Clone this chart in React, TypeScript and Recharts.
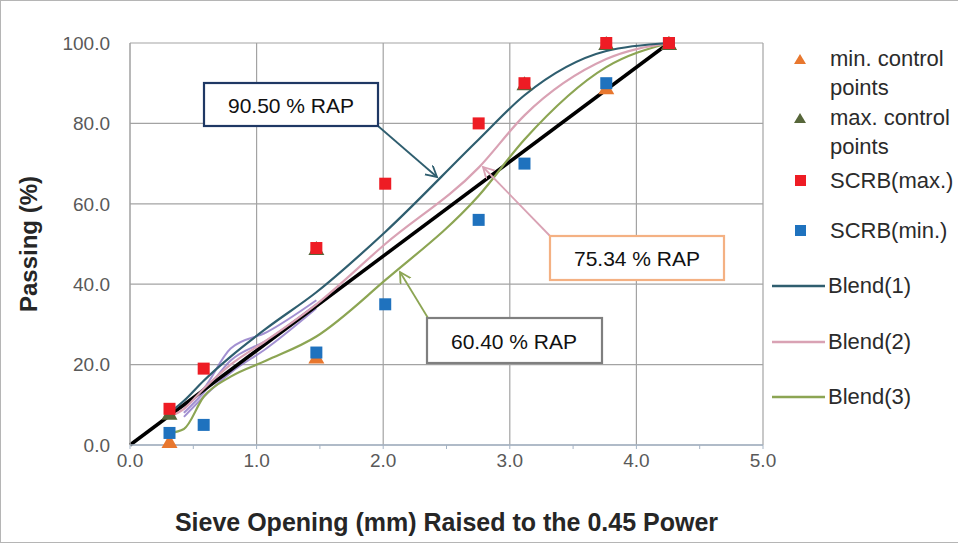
import React from 'react'
import {
  ComposedChart,
  Line,
  Scatter,
  XAxis,
  YAxis,
  CartesianGrid,
  ReferenceLine,
} from 'recharts'

const FONT = '"Liberation Sans", Arial, sans-serif'

// sieve openings (mm) raised to the 0.45 power: 0.075 ... 25 mm
const sieveX = [0.312, 0.426, 0.582, 0.795, 1.077, 1.472, 2.016, 2.754, 3.116, 3.762, 4.257]

// blend gradations, % passing
const blend1 = [8, 11, 16, 22, 29, 38, 53, 76, 87, 98, 100]
const blend2 = [7, 9, 14, 20, 26, 35, 50, 69, 82, 96, 100]
const blend3 = [3, 4, 12, 17, 21, 27, 41, 62, 76, 94, 100]

// trial blends (fine end only)
const trialX = [0.426, 0.582, 0.795, 1.077, 1.472]
const trialA = [9, 14, 24, 28, 36]
const trialB = [8, 13, 21, 26, 35]
const trialC = [7, 12, 18, 24, 34]

// maximum density line
const mdlX = [0, 4.257]
const mdlY = [0, 100]

// control points
const minCtrlX = [0.312, 1.472, 3.762, 4.257]
const minCtrlY = [1, 22, 89, 100]
const maxCtrlX = [0.312, 1.472, 3.116, 3.762, 4.257]
const maxCtrlY = [8, 49, 90, 100, 100]

// SCRB limits
const scrbX = [0.312, 0.582, 1.472, 2.016, 2.754, 3.116, 3.762, 4.257]
const scrbMax = [9, 19, 49, 65, 80, 90, 100, 100]
const scrbMin = [3, 5, 23, 35, 56, 70, 90, 100]

const xTicks = [0, 0.5, 1, 1.5, 2, 2.5, 3, 3.5, 4, 4.5, 5]
const yTicks = [0, 20, 40, 60, 80, 100]
const xGrid = [1, 2, 3, 4, 5]

const C = {
  blend1: '#2f5e6f',
  blend2: '#d9a2b4',
  blend3: '#8ca553',
  trial: '#8b74c6',
  minCtrl: '#e8772e',
  maxCtrl: '#56663a',
  scrbMax: '#ee1c24',
  scrbMin: '#1f72be',
  grid: '#a3a3a3',
}

const pts = (xs: number[], ys: number[]) => xs.map((x, i) => ({ x, y: ys[i] }))

const Tri = (color: string) => (p: any) => (
  <polygon
    points={`${p.cx},${p.cy - 7} ${p.cx - 8},${p.cy + 7} ${p.cx + 8},${p.cy + 7}`}
    fill={color}
  />
)

const Sq = (color: string) => (p: any) => (
  <rect x={p.cx - 6} y={p.cy - 6} width={12} height={12} fill={color} />
)

type LegendRow = {
  lines: string[]
  kind: 'tri' | 'sq' | 'line'
  color: string
  top: number
}

const legendRows: LegendRow[] = [
  { lines: ['min. control', 'points'], kind: 'tri', color: C.minCtrl, top: 44 },
  { lines: ['max. control', 'points'], kind: 'tri', color: C.maxCtrl, top: 103 },
  { lines: ['SCRB(max.)'], kind: 'sq', color: C.scrbMax, top: 166 },
  { lines: ['SCRB(min.)'], kind: 'sq', color: C.scrbMin, top: 216 },
  { lines: ['Blend(1)'], kind: 'line', color: C.blend1, top: 271 },
  { lines: ['Blend(2)'], kind: 'line', color: C.blend2, top: 327 },
  { lines: ['Blend(3)'], kind: 'line', color: C.blend3, top: 382 },
]

function ChartLegend() {
  return (
    <>
      {legendRows.map((r) => (
        <div
          key={r.lines[0]}
          style={{ position: 'absolute', left: 766, top: r.top, width: 192, height: r.lines.length * 29 }}
        >
          <svg width={64} height={30} style={{ position: 'absolute', left: 0, top: 0 }}>
            {r.kind === 'tri' && <polygon points="34,10 28,20 40,20" fill={r.color} />}
            {r.kind === 'sq' && <rect x={29} y={9} width={11} height={11} fill={r.color} />}
            {r.kind === 'line' && <line x1={6} y1={15} x2={59} y2={15} stroke={r.color} strokeWidth={2.5} />}
          </svg>
          <div
            style={{
              position: 'absolute',
              left: r.kind === 'line' ? 62 : 64,
              top: 0,
              fontSize: 22,
              lineHeight: '29px',
              color: '#2b2b2b',
              whiteSpace: 'nowrap',
            }}
          >
            {r.lines.map((t) => (
              <div key={t}>{t}</div>
            ))}
          </div>
        </div>
      ))}
    </>
  )
}

function Callouts() {
  const box = { fill: '#fff', strokeWidth: 2.2 }
  const txt = { fontSize: 21, fill: '#111', textAnchor: 'middle' as const, dominantBaseline: 'central' as const }
  return (
    <svg
      width={958}
      height={546}
      style={{ position: 'absolute', left: 0, top: 0, pointerEvents: 'none', fontFamily: FONT }}
    >
      <defs>
        {[
          ['head1', C.blend1],
          ['head2', C.blend2],
          ['head3', C.blend3],
        ].map(([id, c]) => (
          <marker key={id} id={id} markerWidth={14} markerHeight={14} refX={11} refY={6} orient="auto" markerUnits="userSpaceOnUse">
            <path d="M0,0 L11,6 L0,12" fill="none" stroke={c} strokeWidth={1.8} />
          </marker>
        ))}
      </defs>

      <line x1={378} y1={126} x2={437} y2={177} stroke={C.blend1} strokeWidth={1.8} markerEnd="url(#head1)" />
      <rect x={204} y={83} width={174} height={43} stroke="#1f3864" {...box} />
      <text x={291} y={105} {...txt}>90.50 % RAP</text>

      <line x1={551} y1={237} x2={483} y2={167} stroke={C.blend2} strokeWidth={1.8} markerEnd="url(#head2)" />
      <rect x={550} y={236} width={174} height={44} stroke="#f4b183" {...box} />
      <text x={637} y={258} {...txt}>75.34 % RAP</text>

      <line x1={428} y1={318} x2={400} y2={272} stroke={C.blend3} strokeWidth={1.8} markerEnd="url(#head3)" />
      <rect x={427} y={318} width={175} height={45} stroke="#7f7f7f" {...box} />
      <text x={514} y={341} {...txt}>60.40 % RAP</text>
    </svg>
  )
}

export default function App() {
  const lineProps = { type: 'monotone' as const, dataKey: 'y', dot: false, activeDot: false, isAnimationActive: false }
  return (
    <div
      style={{
        position: 'absolute',
        left: 0,
        top: 0,
        width: 958,
        height: 546,
        overflow: 'hidden',
        background: '#fff',
        fontFamily: FONT,
      }}
    >
      <div
        style={{
          position: 'absolute',
          left: 0,
          top: 0,
          width: 970,
          height: 541,
          border: '1px solid #b5b5b5',
        }}
      />
      <ComposedChart
        width={958}
        height={546}
        margin={{ top: 43, right: 195, bottom: 15, left: 0 }}
        style={{ fontFamily: FONT }}
      >
        <CartesianGrid vertical={false} stroke={C.grid} strokeWidth={1.2} />
        {xGrid.map((x) => (
          <ReferenceLine key={x} x={x} stroke={C.grid} strokeWidth={1.2} />
        ))}
        <XAxis
          type="number"
          dataKey="x"
          domain={[0, 5]}
          ticks={xTicks}
          interval={0}
          height={86}
          tickFormatter={(v: number) => (Number.isInteger(v) ? v.toFixed(1) : '')}
          tick={{ fill: '#595959', fontSize: 19 }}
          tickSize={4}
          tickMargin={5}
          axisLine={{ stroke: '#a4b3c4', strokeWidth: 1.5 }}
          tickLine={{ stroke: '#a4b3c4' }}
          label={{
            value: 'Sieve Opening (mm) Raised to the 0.45 Power',
            position: 'insideBottom',
            offset: 0,
            style: { fontSize: 25, fontWeight: 700, fill: '#262626' },
          }}
        />
        <YAxis
          type="number"
          domain={[0, 100]}
          ticks={yTicks}
          width={130}
          tickFormatter={(v: number) => v.toFixed(1)}
          tick={{ fill: '#595959', fontSize: 19 }}
          tickSize={0}
          tickMargin={20}
          axisLine={{ stroke: '#a0a0a0', strokeWidth: 1.5 }}
          label={{
            value: 'Passing (%)',
            angle: -90,
            position: 'insideLeft',
            offset: 28,
            style: { textAnchor: 'middle', fontSize: 24, fontWeight: 700, fill: '#262626' },
          }}
        />

        <Line {...lineProps} data={pts(trialX, trialA)} stroke={C.trial} strokeWidth={2} strokeOpacity={0.8} />
        <Line {...lineProps} data={pts(trialX, trialB)} stroke={C.trial} strokeWidth={2} strokeOpacity={0.8} />
        <Line {...lineProps} data={pts(trialX, trialC)} stroke={C.trial} strokeWidth={2} strokeOpacity={0.8} />
        <Line {...lineProps} type="linear" data={pts(mdlX, mdlY)} stroke="#000" strokeWidth={3.5} />
        <Line {...lineProps} data={pts(sieveX, blend3)} stroke={C.blend3} strokeWidth={2.2} />
        <Line {...lineProps} data={pts(sieveX, blend2)} stroke={C.blend2} strokeWidth={2.2} />
        <Line {...lineProps} data={pts(sieveX, blend1)} stroke={C.blend1} strokeWidth={2.2} />

        <Scatter data={pts(minCtrlX, minCtrlY)} dataKey="y" shape={Tri(C.minCtrl)} isAnimationActive={false} />
        <Scatter data={pts(maxCtrlX, maxCtrlY)} dataKey="y" shape={Tri(C.maxCtrl)} isAnimationActive={false} />
        <Scatter data={pts(scrbX, scrbMin)} dataKey="y" shape={Sq(C.scrbMin)} isAnimationActive={false} />
        <Scatter data={pts(scrbX, scrbMax)} dataKey="y" shape={Sq(C.scrbMax)} isAnimationActive={false} />
      </ComposedChart>
      <Callouts />
      <ChartLegend />
    </div>
  )
}
